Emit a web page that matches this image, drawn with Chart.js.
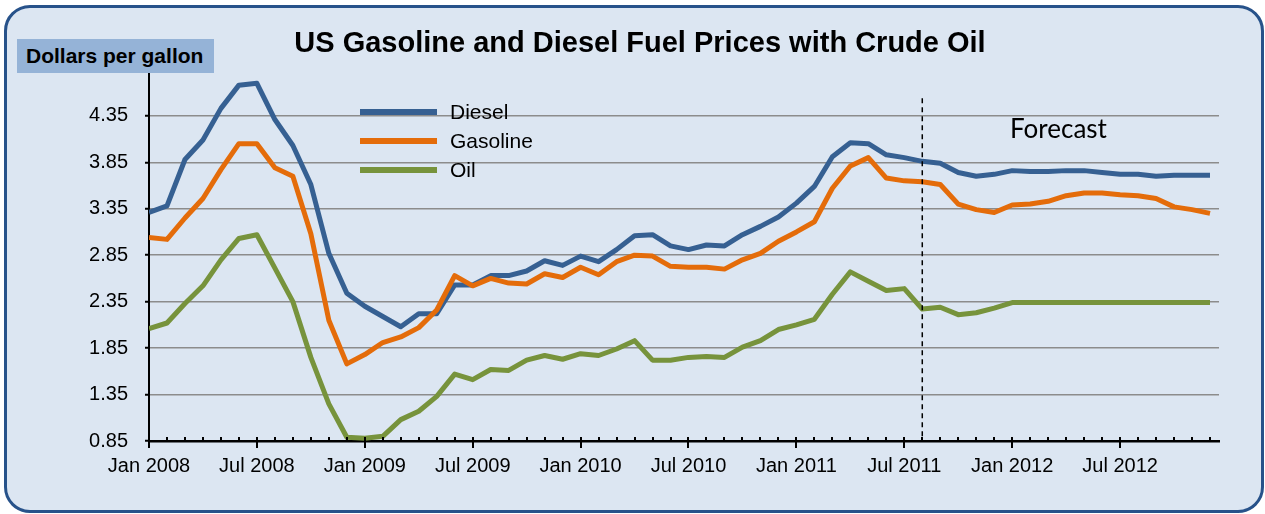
<!DOCTYPE html>
<html>
<head>
<meta charset="utf-8">
<title>US Gasoline and Diesel Fuel Prices with Crude Oil</title>
<script src="https://cdn.jsdelivr.net/npm/chart.js@4/dist/chart.umd.min.js"></script>
<style>
    body { margin: 0; background: #fff; }
    #wrap { position: relative; width: 1265px; height: 514px; overflow: hidden; font-family: "Liberation Sans", Arial, sans-serif; }
    .frame { position: absolute; left: 4px; top: 5px; width: 1260px; height: 508px; box-sizing: border-box; border: 3px solid #27528a; border-radius: 26px; background: #dce6f2; }
    #chart { position: absolute; left: 0; top: 0; }
    .title { position: absolute; left: 0; width: 1280px; top: 28px; text-align: center; font-size: 29px; line-height: 29px; font-weight: bold; color: #000; }
    .unit { position: absolute; left: 17px; top: 39px; width: 197px; height: 34px; box-sizing: border-box; padding-left: 9px; background: #95b3d7; font-size: 21px; line-height: 34px; font-weight: bold; color: #000; }
    #legend { position: absolute; left: 360px; top: 97px; }
    .row { display: flex; align-items: center; height: 29px; }
    .swatch { width: 77px; height: 6px; }
    .row span { margin-left: 13px; font-size: 21px; color: #000; }
    .forecast { position: absolute; left: 1010px; top: 115px; font-family: Lato, "Open Sans", sans-serif; font-size: 26px; line-height: 26px; color: #000; }
</style>
</head>
<body>
<div id="wrap">
    <div class="frame"></div>
    <canvas id="chart" width="1265" height="514"></canvas>
    <div class="title">US Gasoline and Diesel Fuel Prices with Crude Oil</div>
    <div class="unit">Dollars per gallon</div>
    <div id="legend"></div>
    <div class="forecast">Forecast</div>
</div>
<script>
// monthly prices, Jan 2008 .. Dec 2012 (index 0 = Jan 2008)
const diesel = [
    3.31, 3.38, 3.88, 4.09, 4.43, 4.68, 4.70, 4.31, 4.03, 3.61,
    2.87, 2.44, 2.30, 2.19, 2.08, 2.22, 2.22, 2.53, 2.53, 2.63,
    2.63, 2.68, 2.79, 2.74, 2.84, 2.78, 2.91, 3.06, 3.07, 2.95,
    2.91, 2.96, 2.95, 3.07, 3.16, 3.26, 3.41, 3.59, 3.91, 4.06,
    4.05, 3.93, 3.90, 3.86, 3.84, 3.74, 3.70, 3.72, 3.76, 3.75,
    3.75, 3.76, 3.76, 3.74, 3.72, 3.72, 3.70, 3.71, 3.71, 3.71
]
const gasoline = [
    3.04, 3.02, 3.25, 3.46, 3.77, 4.05, 4.05, 3.79, 3.70, 3.08,
    2.15, 1.68, 1.78, 1.91, 1.97, 2.07, 2.26, 2.63, 2.52, 2.60,
    2.55, 2.54, 2.65, 2.61, 2.72, 2.64, 2.78, 2.85, 2.84, 2.73,
    2.72, 2.72, 2.70, 2.80, 2.87, 3.00, 3.10, 3.21, 3.57, 3.81,
    3.90, 3.68, 3.65, 3.64, 3.61, 3.40, 3.34, 3.31, 3.39, 3.40,
    3.43, 3.49, 3.52, 3.52, 3.50, 3.49, 3.46, 3.37, 3.34, 3.30
]
const oil = [
    2.06, 2.12, 2.33, 2.52, 2.80, 3.03, 3.07, 2.71, 2.35, 1.75,
    1.25, 0.89, 0.88, 0.90, 1.08, 1.17, 1.33, 1.57, 1.51, 1.62,
    1.61, 1.72, 1.77, 1.73, 1.79, 1.77, 1.84, 1.93, 1.72, 1.72,
    1.75, 1.76, 1.75, 1.86, 1.93, 2.05, 2.10, 2.16, 2.43, 2.67,
    2.57, 2.47, 2.49, 2.27, 2.29, 2.21, 2.23, 2.28, 2.34, 2.34,
    2.34, 2.34, 2.34, 2.34, 2.34, 2.34, 2.34, 2.34, 2.34, 2.34
]

const xTickPos = [0, 6, 12, 18, 24, 30, 36, 42, 48, 54]
const xTickLabels = ['Jan 2008', 'Jul 2008', 'Jan 2009', 'Jul 2009', 'Jan 2010', 'Jul 2010', 'Jan 2011', 'Jul 2011', 'Jan 2012', 'Jul 2012']
const yTicks = [0.85, 1.35, 1.85, 2.35, 2.85, 3.35, 3.85, 4.35]
const yMin = 0.85
const yMax = 4.8

// forecast starts Aug 2011
const forecastStart = 43
const forecastTop = 4.54

const toPoints = (arr) => arr.map((v, i) => ({ x: i, y: v }))

const fontFam = '"Liberation Sans", Arial, sans-serif'

/* --- month ticks and forecast divider --- */
const extras = {
    id: 'extras',
    afterDatasetsDraw(chart) {

        const { ctx, scales: { x, y } } = chart
        const base = y.getPixelForValue(yMin)

        ctx.save()
        ctx.strokeStyle = '#000'
        ctx.lineWidth = 1.5
        ctx.setLineDash([5, 4])
        const fx = x.getPixelForValue(forecastStart)
        ctx.beginPath()
        ctx.moveTo(fx, y.getPixelForValue(forecastTop))
        ctx.lineTo(fx, base)
        ctx.stroke()

        ctx.setLineDash([])
        ctx.lineWidth = 2
        for (let i = 0; i < diesel.length; i++) {
            const px = Math.round(x.getPixelForValue(i))
            ctx.beginPath()
            ctx.moveTo(px, base - 4)
            ctx.lineTo(px, i % 6 === 0 ? base + 7 : base)
            ctx.stroke()
        }
        ctx.restore()
    }
}

const chart = new Chart(document.getElementById('chart'), {
    type: 'line',
    data: {
        datasets: [
            { label: 'Diesel', data: toPoints(diesel), borderColor: '#366092', order: 3 },
            { label: 'Gasoline', data: toPoints(gasoline), borderColor: '#e46c0a', order: 2 },
            { label: 'Oil', data: toPoints(oil), borderColor: '#77933c', order: 1 }
        ]
    },
    options: {
        responsive: false,
        animation: false,
        devicePixelRatio: 1,
        layout: { padding: { top: 74, right: 46, left: 0, bottom: 0 } },
        elements: {
            line: { borderWidth: 5, tension: 0, borderJoinStyle: 'round', fill: false },
            point: { radius: 0 }
        },
        plugins: {
            legend: { display: false },
            tooltip: { enabled: false }
        },
        scales: {
            x: {
                type: 'linear',
                min: 0,
                max: 59.5,
                afterBuildTicks: (s) => { s.ticks = xTickPos.map(v => ({ value: v })) },
                afterFit: (s) => { s.height = 73 },
                ticks: {
                    autoSkip: false,
                    maxRotation: 0,
                    padding: 13,
                    color: '#000',
                    font: { family: fontFam, size: 20 },
                    callback: (v, i) => xTickLabels[i]
                },
                grid: { drawOnChartArea: false, drawTicks: false },
                border: { color: '#000', width: 2.5 }
            },
            y: {
                min: yMin,
                max: yMax,
                afterBuildTicks: (s) => { s.ticks = yTicks.map(v => ({ value: v })) },
                afterFit: (s) => { s.width = 149 },
                ticks: {
                    padding: 17,
                    color: '#000',
                    font: { family: fontFam, size: 20 },
                    callback: (v) => v.toFixed(2)
                },
                grid: { color: '#8c8c8c', lineWidth: 1.5, tickLength: 4, tickColor: '#000', tickWidth: 2 },
                border: { color: '#000', width: 2 }
            }
        }
    },
    plugins: [extras]
})

// legend built from the datasets
const legend = document.getElementById('legend')
chart.data.datasets.forEach(ds => {

    const row = document.createElement('div')
    row.className = 'row'
    row.innerHTML = `<div class="swatch" style="background:${ds.borderColor}"></div><span>${ds.label}</span>`
    legend.appendChild(row)
})
</script>
</body>
</html>
